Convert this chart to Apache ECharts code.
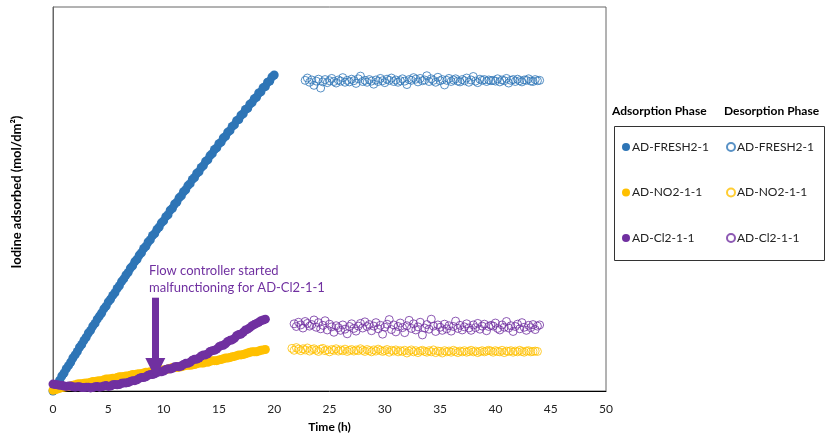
<!DOCTYPE html>
<html>
<head>
<meta charset="utf-8">
<script src="https://cdn.jsdelivr.net/npm/echarts@6/dist/echarts.min.js"></script>
<style>html,body{margin:0;padding:0;background:#fff}#c{width:826px;height:439px}</style>
</head>
<body>
<div id="c"></div>
<script>
// ---- Data (y in arbitrary units, 0-100 full scale) ----
const xTicks = [0, 5, 10, 15, 20, 25, 30, 35, 40, 45, 50];
const seriesNames = ['AD-FRESH2-1', 'AD-NO2-1-1', 'AD-Cl2-1-1'];

// Adsorption phase: sampled every 0.2 h starting at t = 0
const adsStart = 0, adsStep = 0.2;
const adsFresh = [0.0, 1.0, 1.9, 2.8, 3.9, 4.7, 5.8, 6.6, 7.5, 8.6,
  9.4, 10.3, 11.4, 12.1, 13.2, 14.0, 15.1, 15.8, 16.9, 17.6,
  18.7, 19.5, 20.3, 21.4, 22.1, 23.2, 23.9, 24.9, 25.6, 26.7,
  27.4, 28.5, 29.2, 30.2, 30.9, 32.0, 32.6, 33.7, 34.3, 35.4,
  36.0, 37.1, 37.7, 38.8, 39.4, 40.5, 41.0, 42.1, 42.7, 43.8,
  44.3, 45.4, 45.9, 47.1, 47.6, 48.7, 49.2, 50.3, 50.8, 51.9,
  52.4, 53.5, 54.0, 55.1, 55.6, 56.7, 57.1, 58.2, 58.7, 59.8,
  60.2, 61.3, 61.8, 62.9, 63.3, 64.4, 64.8, 65.9, 66.3, 67.4,
  67.8, 68.9, 69.3, 70.4, 70.7, 71.8, 72.2, 73.3, 73.6, 74.7,
  75.1, 76.1, 76.5, 77.6, 77.9, 79.0, 79.3, 80.4, 80.7, 81.8, 82.3];
const adsNo2 = [0.2, 0.3, 0.5, 0.7, 0.9, 1.0, 1.1, 1.2, 1.3, 1.5,
  1.6, 1.8, 1.9, 1.9, 2.0, 2.1, 2.1, 2.3, 2.5, 2.5,
  2.6, 2.7, 2.7, 2.9, 3.1, 3.1, 3.2, 3.3, 3.3, 3.5,
  3.7, 3.7, 3.8, 3.9, 3.9, 4.1, 4.3, 4.3, 4.4, 4.5,
  4.5, 4.7, 4.9, 4.9, 5.0, 5.1, 5.1, 5.3, 5.5, 5.5,
  5.5, 5.6, 5.7, 5.9, 6.1, 6.1, 6.1, 6.2, 6.3, 6.5,
  6.7, 6.7, 6.7, 6.8, 6.9, 7.1, 7.3, 7.3, 7.3, 7.6,
  7.5, 7.7, 7.9, 7.9, 7.9, 8.1, 8.2, 8.4, 8.6, 8.6,
  8.7, 8.9, 9.0, 9.2, 9.4, 9.4, 9.5, 9.7, 9.9, 10.1,
  10.2, 10.2, 10.2, 10.4, 10.6, 10.7, 10.8];
const adsCl2 = [1.8, 1.7, 1.6, 1.5, 1.5, 1.3, 1.2, 1.3, 1.3, 1.1,
  1.0, 1.1, 1.1, 0.9, 0.9, 1.0, 1.0, 0.8, 0.9, 1.1,
  1.2, 1.0, 1.1, 1.3, 1.4, 1.2, 1.3, 1.6, 1.7, 1.6,
  1.7, 2.0, 2.1, 2.1, 2.2, 2.5, 2.7, 2.7, 2.9, 3.3,
  3.5, 3.5, 3.7, 4.1, 4.3, 4.3, 4.5, 4.8, 5.0, 5.0,
  5.2, 5.6, 5.8, 5.7, 5.9, 6.3, 6.4, 6.3, 6.5, 6.9,
  7.2, 7.2, 7.5, 8.0, 8.3, 8.3, 8.6, 9.1, 9.4, 9.4,
  9.7, 10.3, 10.5, 10.6, 10.9, 11.5, 11.8, 11.9, 12.3, 12.9,
  13.2, 13.3, 13.7, 14.4, 14.7, 14.8, 15.3, 15.9, 16.1, 16.5,
  17.0, 17.3, 17.6, 17.9, 18.3, 18.5, 18.7];

// Desorption phase: sampled every 0.2 h
const desStep = 0.2;
const desFreshStart = 22.8;
const desFresh = [80.9, 81.5, 80.4, 81.0, 79.6, 80.7, 81.2, 78.9, 80.5, 81.1,
  80.3, 80.8, 81.4, 80.6, 80.2, 81.0, 80.7, 81.6, 80.4, 80.9,
  80.5, 81.2, 80.8, 80.1, 81.3, 82.0, 80.6, 80.9, 80.4, 81.1,
  80.7, 79.9, 81.0, 80.6, 81.4, 80.8, 80.3, 81.2, 80.9, 81.5,
  80.6, 81.0, 80.4, 80.8, 81.3, 80.7, 79.8, 81.1, 80.9, 81.6,
  81.2, 80.5, 81.4, 80.8, 81.0, 82.1, 80.6, 81.3, 80.9, 80.4,
  81.7, 80.8, 81.1, 79.7, 80.9, 81.4, 80.6, 81.0, 81.3, 80.7,
  80.5, 81.1, 80.8, 81.5, 80.4, 81.0, 81.9, 80.7, 80.3, 81.2,
  80.9, 81.1, 80.6, 81.0, 80.8, 80.9, 80.7, 81.3, 80.5, 81.0,
  80.8, 81.4, 80.2, 80.9, 81.1, 80.6, 81.2, 80.8, 80.5, 81.0,
  80.9, 81.3, 80.7, 80.6, 81.1, 80.8, 80.9];
const desNo2Start = 21.6;
const desNo2 = [11.1, 10.6, 11.3, 10.9, 10.5, 11.0, 10.7, 11.2, 10.4, 10.8,
  11.0, 10.6, 10.3, 10.9, 11.1, 10.5, 10.7, 10.2, 10.8, 10.6,
  11.0, 10.4, 10.7, 10.5, 10.9, 10.3, 10.6, 10.8, 10.4, 10.7,
  10.5, 11.0, 10.6, 10.3, 10.8, 10.5, 10.2, 10.7, 10.4, 10.9,
  10.6, 10.3, 10.5, 10.8, 10.1, 10.6, 10.4, 10.7, 10.2, 10.5,
  10.3, 10.6, 9.9, 10.4, 10.7, 10.2, 10.5, 10.0, 10.4, 10.6,
  10.3, 10.1, 10.5, 10.2, 10.7, 10.0, 10.4, 10.3, 9.9, 10.5,
  10.2, 10.4, 10.1, 10.6, 10.3, 10.0, 10.4, 10.2, 10.5, 10.1,
  10.3, 10.6, 10.2, 10.4, 10.0, 10.3, 10.5, 10.2, 10.4, 10.6,
  10.4, 10.1, 10.5, 10.3, 10.2, 10.6, 10.0, 10.4, 10.3, 10.5,
  10.1, 10.4, 10.2, 10.6, 10.3, 10.1, 10.4, 10.5, 10.2, 10.3,
  10.4, 10.3];
const desCl2Start = 21.8;
const desCl2 = [17.5, 16.8, 17.9, 17.2, 16.4, 18.1, 17.6, 16.9, 17.3, 18.5,
  16.6, 17.8, 16.2, 17.1, 18.3, 15.9, 17.4, 16.7, 15.3, 17.0,
  16.5, 15.8, 17.2, 16.1, 14.9, 16.8, 17.5, 16.3, 15.6, 16.9,
  17.6, 16.4, 18.0, 16.8, 17.3, 15.7, 16.9, 17.8, 16.2, 17.1,
  14.8, 16.6, 17.4, 18.6, 16.0, 17.2, 15.4, 16.8, 17.7, 16.5,
  15.2, 17.0, 18.4, 16.3, 17.5, 15.9, 16.7, 17.9, 14.6, 16.4,
  17.3, 16.1, 18.7, 16.9, 15.5, 17.2, 16.6, 15.8, 17.4, 16.2,
  17.0, 15.6, 16.8, 18.2, 16.3, 17.1, 15.9, 16.7, 17.5, 16.4,
  15.8, 17.2, 16.5, 17.6, 16.1, 16.9, 17.4, 15.7, 16.8, 17.1,
  16.9, 17.7, 16.3, 15.9, 17.2, 16.6, 18.1, 16.4, 17.0, 15.5,
  16.8, 17.4, 16.2, 17.8, 16.6, 15.8, 17.1, 16.5, 17.3, 16.0,
  16.9, 17.2];

// annotation
const annotationText = 'Flow controller started\nmalfunctioning for AD-Cl2-1-1';
const arrowT = 9.25, arrowFrom = 24.3, arrowTo = 6.0;

// ---- Build ----
const BLUE = '#2E75B6', GOLD = '#FFC000', PURPLE = '#7030A0';
const FONT = 'Lato';
function pairs(start, step, vals) {
  return vals.map((v, i) => [+(start + i * step).toFixed(3), v]);
}
function ads(name, color, vals, extra) {
  return Object.assign({
    name: 'ads:' + name, type: 'scatter', symbol: 'circle', symbolSize: 9,
    itemStyle: { color: color, opacity: 1 },
    data: pairs(adsStart, adsStep, vals), z: 3, silent: true
  }, extra || {});
}
function des(name, color, start, vals) {
  return {
    name: 'des:' + name, type: 'scatter', symbol: 'circle', symbolSize: 8,
    itemStyle: { color: 'rgba(0,0,0,0)', borderColor: color, borderWidth: 1 },
    data: pairs(start, desStep, vals), z: 2, silent: true
  };
}

const chart = echarts.init(document.getElementById('c'), null, { renderer: 'canvas' });
const legendCommon = {
  orient: 'vertical', itemWidth: 8, itemHeight: 8, itemGap: 33.5, icon: 'circle',
  textStyle: { fontFamily: FONT, fontSize: 12, color: '#222', padding: [0, 0, 0, -3] },
  formatter: n => n.slice(4), selectedMode: false, padding: 0
};
chart.setOption({
  animation: false,
  textStyle: { fontFamily: FONT },
  grid: { left: 53, right: 220, top: 7, bottom: 48, show: true, borderColor: '#666', borderWidth: 1, containLabel: false },
  xAxis: {
    type: 'value', min: 0, max: 50, interval: 5,
    name: 'Time (h)', nameLocation: 'middle', nameGap: 30,
    nameTextStyle: { fontFamily: FONT, fontWeight: 'bold', fontSize: 12, color: '#000' },
    axisLine: { show: true, lineStyle: { color: '#000', width: 1 } },
    axisTick: { show: false }, splitLine: { show: false },
    axisLabel: { fontFamily: FONT, fontSize: 12, color: '#222', margin: 12,
      customValues: xTicks, formatter: v => String(v) }
  },
  yAxis: {
    type: 'value', min: 0, max: 100,
    name: 'Iodine adsorbed (mol/dm²)', nameLocation: 'middle', nameGap: 30, nameRotate: 90,
    nameTextStyle: { fontFamily: FONT, fontWeight: 'bold', fontSize: 13, color: '#000', padding: [0, 0, 0, 14] },
    axisLine: { show: true, lineStyle: { color: '#666' } },
    axisTick: { show: false }, splitLine: { show: false }, axisLabel: { show: false }
  },
  legend: [
    Object.assign({}, legendCommon, { left: 622, top: 141, data: seriesNames.map(n => 'ads:' + n) }),
    Object.assign({}, legendCommon, { left: 726, top: 141, data: seriesNames.map(n => 'des:' + n) })
  ],
  graphic: [
    { type: 'rect', left: 612, top: 124, shape: { width: 210, height: 134 },
      style: { fill: 'none', stroke: '#333', lineWidth: 1 } },
    { type: 'text', left: 612, top: 105, style: { text: 'Adsorption Phase', font: 'bold 12px ' + FONT, fill: '#000' } },
    { type: 'text', left: 724, top: 105, style: { text: 'Desorption Phase', font: 'bold 12px ' + FONT, fill: '#000' } },
    { type: 'text', left: 149, top: 262, style: { text: annotationText, font: '13px ' + FONT, fill: PURPLE, lineHeight: 17 } }
  ],
  series: [
    ads(seriesNames[0], BLUE, adsFresh),
    ads(seriesNames[1], GOLD, adsNo2),
    ads(seriesNames[2], PURPLE, adsCl2, {
      markLine: {
        silent: true, symbol: ['none', 'triangle'], symbolSize: 20,
        label: { show: false },
        lineStyle: { color: PURPLE, width: 7, type: 'solid' },
        data: [[{ coord: [arrowT, arrowFrom] }, { coord: [arrowT, arrowTo] }]]
      }
    }),
    des(seriesNames[0], BLUE, desFreshStart, desFresh),
    des(seriesNames[1], GOLD, desNo2Start, desNo2),
    des(seriesNames[2], PURPLE, desCl2Start, desCl2)
  ]
});
</script>
</body>
</html>
